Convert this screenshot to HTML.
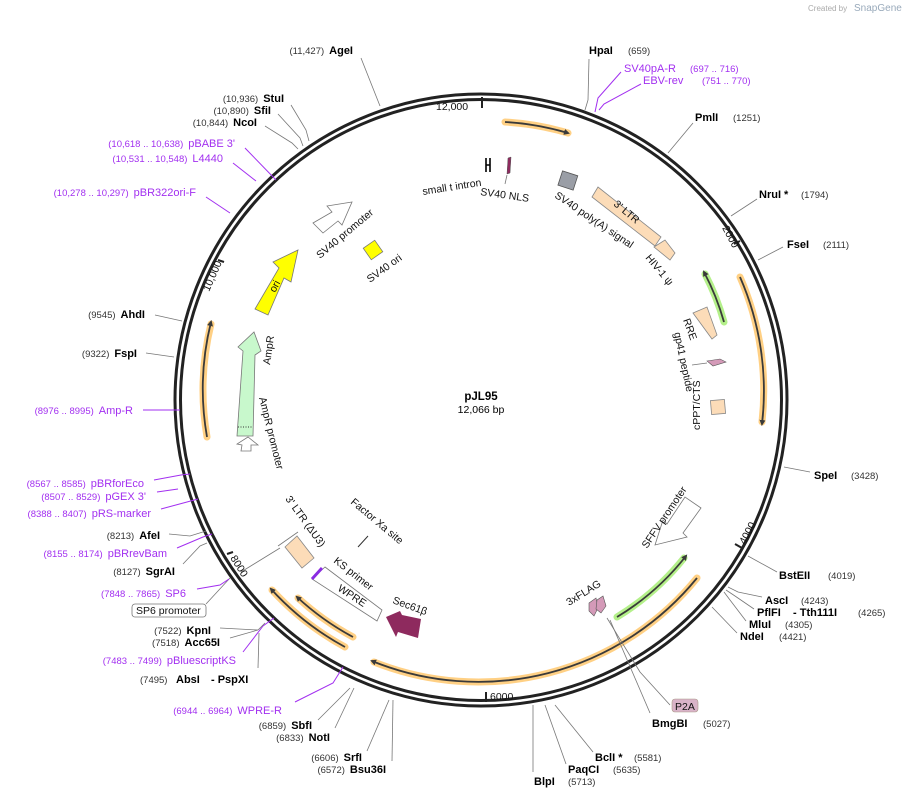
<!DOCTYPE html>
<html><head><meta charset="utf-8"><style>
html,body{margin:0;padding:0;background:#fff;}
svg{display:block;font-family:"Liberation Sans","DejaVu Sans",sans-serif;}
.b{font-weight:bold;font-size:11px;fill:#000;}
.n{font-size:9.5px;fill:#333;}
.p{font-size:11px;fill:#a22ff0;}
.pn{font-size:9.5px;fill:#a22ff0;}
.l{stroke:#777;stroke-width:0.8;fill:none;}
.pl{stroke:#a22ff0;stroke-width:1;fill:none;}
.f{font-size:10.5px;fill:#111;}
.halo{stroke:#ffc86e;stroke-width:7;fill:none;stroke-linecap:round;opacity:.85}
.orf{stroke:#3a3a3a;stroke-width:1.8;fill:none;}
.ghalo{stroke:#b4f08a;stroke-width:7;fill:none;stroke-linecap:round;}
.peach{fill:#fcdcb8;stroke:#888;stroke-width:.8;}
</style></head><body>
<svg width="904" height="799" viewBox="0 0 904 799" xmlns="http://www.w3.org/2000/svg">
<defs>
<marker id="ah" markerWidth="6" markerHeight="6" refX="4" refY="3" orient="auto" markerUnits="userSpaceOnUse"><path d="M0,0 L6,3 L0,6 Z" fill="#3a3a3a"/></marker>
</defs>
<text x="808" y="11" font-size="8" fill="#aaa">Created by</text>
<text x="854" y="11" font-size="10" fill="#9ab">SnapGene</text>

<circle cx="481" cy="400" r="306" fill="none" stroke="#222" stroke-width="3"/>
<circle cx="481" cy="400" r="300.5" fill="none" stroke="#222" stroke-width="3"/>

<line x1="482" y1="97" x2="482" y2="108" stroke="#222" stroke-width="2"/>
<text x="436" y="110" class="f" font-size="10">12,000</text>
<line x1="734" y1="244" x2="740" y2="241" stroke="#222" stroke-width="2"/>
<text transform="translate(722,228) rotate(62)" class="f" font-size="10">2000</text>
<line x1="735" y1="544" x2="742" y2="548" stroke="#222" stroke-width="2"/>
<text transform="translate(745,545) rotate(-62)" class="f" font-size="10">4000</text>
<line x1="486" y1="692" x2="486" y2="702" stroke="#222" stroke-width="2"/>
<text x="490" y="700" class="f" font-size="10">6000</text>
<line x1="227" y1="554" x2="233" y2="552" stroke="#222" stroke-width="2"/>
<text transform="translate(230,558) rotate(58)" class="f" font-size="10">8000</text>
<line x1="218" y1="260" x2="224" y2="262" stroke="#222" stroke-width="2"/>
<text transform="translate(209,292) rotate(-66)" class="f" font-size="10">10,000</text>

<path class="halo" d="M505,122 A279,279 0 0 1 568,133"/>
<path class="orf" d="M505,122 A279,279 0 0 1 568,133" marker-end="url(#ah)"/>
<path class="halo" d="M740,277 A284,284 0 0 1 762,422"/>
<path class="orf" d="M740,277 A284,284 0 0 1 762,424" marker-end="url(#ah)"/>
<path class="halo" d="M697,578 A282,282 0 0 1 374,662"/>
<path class="orf" d="M697,578 A282,282 0 0 1 372,661" marker-end="url(#ah)"/>
<path class="halo" d="M345,647 A282,282 0 0 1 272,590"/>
<path class="orf" d="M345,647 A282,282 0 0 1 271,589" marker-end="url(#ah)"/>
<path class="halo" d="M353,637 A269,269 0 0 1 298,598"/>
<path class="orf" d="M353,637 A269,269 0 0 1 297,597" marker-end="url(#ah)"/>
<path class="halo" d="M207,437 A278,278 0 0 1 211,324"/>
<path class="orf" d="M207,437 A278,278 0 0 1 211,322" marker-end="url(#ah)"/>
<path class="ghalo" d="M724,322 A256,256 0 0 0 705,274"/>
<path class="orf" d="M724,322 A256,256 0 0 0 704,272" marker-end="url(#ah)"/>
<path class="ghalo" d="M617,617 A256,256 0 0 0 684,558"/>
<path class="orf" d="M617,617 A256,256 0 0 0 686,556" marker-end="url(#ah)"/>

<polygon points="237,436 253,436 255,355 261,351 254,332 238,347 243,351" fill="#c8f8cc" stroke="#777" stroke-width=".8"/>
<line x1="238" y1="427" x2="253" y2="427" stroke="#333" stroke-dasharray="1,1.5"/>
<polygon points="241,451 251,451 251,445 258,445 248,437 237,444 242,445" fill="#fff" stroke="#777" stroke-width=".8"/>
<polygon points="255,309 268,315 284,278 291,282 298,250 273,262 279,268" fill="#ffff00" stroke="#777" stroke-width=".8"/>
<text transform="translate(275,293) rotate(-62)" class="f" font-size="10">ori</text>
<polygon points="313,223 323,233 338,221 342,225 352,202 327,206 332,212" fill="#fff" stroke="#777" stroke-width=".8"/>
<text transform="translate(320,259) rotate(-40)" class="f">SV40 promoter</text>
<rect x="366" y="243" width="14" height="14" fill="#ffff00" stroke="#777" stroke-width=".8" transform="rotate(-35 373 250)"/>
<text transform="translate(370,283) rotate(-36)" class="f">SV40 ori</text>
<text transform="translate(270,365) rotate(-82)" class="f">AmpR</text>
<text transform="translate(259,398) rotate(76)" class="f">AmpR promoter</text>

<path d="M486,158 V172 M490,158 V172 M486,165 H490" stroke="#000" stroke-width="1.6"/>
<text transform="translate(423,195) rotate(-9)" class="f">small t intron</text>
<polygon points="508,158 511,157 510,173 507,174" fill="#8e2a5e" stroke="#555" stroke-width=".5"/>
<line x1="507" y1="175" x2="505" y2="184" class="l"/>
<text transform="translate(480,195) rotate(8)" class="f">SV40 NLS</text>
<rect x="560" y="173" width="16" height="15" fill="#9a9ea6" stroke="#555" stroke-width=".8" transform="rotate(18 568 180)"/>
<text transform="translate(554,197) rotate(34)" class="f">SV40 poly(A) signal</text>
<polygon class="peach" points="592,197 598,187 661,237 655,246"/>
<text transform="translate(613,205) rotate(40)" class="f">3' LTR</text>
<polygon class="peach" points="654,247 665,240 675,253 670,260"/>
<text transform="translate(645,258) rotate(50)" class="f">HIV-1 ψ</text>
<polygon class="peach" points="693,313 707,307 717,335 712,339"/>
<text transform="translate(683,320) rotate(70)" class="f">RRE</text>
<polygon points="707,361 720,359 726,362 713,366" fill="#d49ab8" stroke="#555" stroke-width=".6"/>
<line x1="692" y1="365" x2="707" y2="363" class="l"/>
<text transform="translate(674,333) rotate(78)" class="f">gp41 peptide</text>
<rect x="711" y="400" width="14" height="14" class="peach" transform="rotate(-5 718 407)"/>
<text transform="translate(700,430) rotate(-90)" class="f">cPPT/CTS</text>

<polygon points="655,545 663,520 667,524 685,497 701,508 683,533 687,537" fill="#fff" stroke="#777" stroke-width=".8"/>
<text transform="translate(647,549) rotate(-56)" class="f">SFFV promoter</text>
<polygon points="589,603 596,598 598,608 594,616 589,611" fill="#d49ab8" stroke="#555" stroke-width=".6"/>
<polygon points="597,600 603,596 606,606 601,613 596,609" fill="#d49ab8" stroke="#555" stroke-width=".6"/>
<text transform="translate(569,606) rotate(-32)" class="f">3xFLAG</text>
<polyline points="607,618 640,672 670,705" class="l"/>
<line x1="610" y1="620" x2="650" y2="713" class="l"/>
<rect x="672" y="699" width="26" height="13" rx="3" fill="#d9b3c8" stroke="#a98" stroke-width=".6"/>
<text x="675" y="710" class="f" font-size="10.5">P2A</text>

<polygon points="386,617 400,611 402,615 421,619 418,638 398,632 396,637" fill="#8e2a5e"/>
<text transform="translate(392,603) rotate(20)" class="f">Sec61β</text>
<polygon points="325,567 382,610 377,621 312,579" fill="#fff" stroke="#777" stroke-width=".8"/>
<line x1="312" y1="579" x2="322" y2="568" stroke="#8a2be2" stroke-width="3"/>
<text transform="translate(333,562) rotate(38)" class="f">KS primer</text>
<text transform="translate(337,590) rotate(33)" class="f">WPRE</text>
<polygon class="peach" points="285,547 297,536 314,558 302,568"/>
<line x1="278" y1="546" x2="298" y2="532" class="l"/>
<line x1="241" y1="572" x2="280" y2="548" class="l"/>
<text transform="translate(285,499) rotate(54)" class="f">3' LTR (ΔU3)</text>
<text transform="translate(350,503) rotate(40)" class="f">Factor Xa site</text>
<line x1="358" y1="547" x2="368" y2="536" stroke="#333" stroke-width="1"/>

<text x="481" y="400" text-anchor="middle" font-weight="bold" font-size="11.5">pJL95</text>
<text x="481" y="413" text-anchor="middle" font-size="10.5">12,066 bp</text>

<line x1="589" y1="59" x2="588" y2="100" class="l"/><line x1="588" y1="100" x2="585" y2="110" class="l"/>
<text x="589" y="54" class="b">HpaI</text><text x="628" y="54" class="n">(659)</text>
<polyline class="pl" points="621,72 598,98 595,112"/>
<polyline class="pl" points="641,84 604,104 599,110"/>
<text x="624" y="72" class="p">SV40pA-R</text><text x="690" y="72" class="pn">(697 .. 716)</text>
<text x="643" y="84" class="p">EBV-rev</text><text x="702" y="84" class="pn">(751 .. 770)</text>
<line x1="693" y1="123" x2="668" y2="153" class="l"/>
<text x="695" y="121" class="b">PmlI</text><text x="733" y="121" class="n">(1251)</text>
<line x1="757" y1="199" x2="731" y2="216" class="l"/>
<text x="759" y="198" class="b">NruI *</text><text x="801" y="198" class="n">(1794)</text>
<line x1="783" y1="247" x2="758" y2="260" class="l"/>
<text x="787" y="248" class="b">FseI</text><text x="823" y="248" class="n">(2111)</text>
<line x1="810" y1="472" x2="784" y2="467" class="l"/>
<text x="814" y="479" class="b">SpeI</text><text x="851" y="479" class="n">(3428)</text>
<line x1="777" y1="572" x2="748" y2="556" class="l"/>
<text x="779" y="579" class="b">BstEII</text><text x="828" y="579" class="n">(4019)</text>
<polyline class="l" points="762,597 738,592 728,587"/>
<polyline class="l" points="754,609 735,596 726,590"/>
<polyline class="l" points="746,621 730,600 724,592"/>
<polyline class="l" points="737,633 712,607"/>
<text x="765" y="604" class="b">AscI</text><text x="801" y="604" class="n">(4243)</text>
<text x="757" y="616" class="b">PflFI</text><text x="793" y="616" class="b">- Tth111I</text><text x="858" y="616" class="n">(4265)</text>
<text x="749" y="628" class="b">MluI</text><text x="785" y="628" class="n">(4305)</text>
<text x="740" y="640" class="b">NdeI</text><text x="779" y="640" class="n">(4421)</text>
<text x="652" y="727" class="b">BmgBI</text><text x="703" y="727" class="n">(5027)</text>
<line x1="593" y1="752" x2="555" y2="705" class="l"/>
<line x1="566" y1="764" x2="545" y2="705" class="l"/>
<line x1="533" y1="772" x2="533" y2="705" class="l"/>
<text x="595" y="761" class="b">BclI *</text><text x="634" y="761" class="n">(5581)</text>
<text x="568" y="773" class="b">PaqCI</text><text x="613" y="773" class="n">(5635)</text>
<text x="534" y="785" class="b">BlpI</text><text x="568" y="785" class="n">(5713)</text>

<line x1="367" y1="751" x2="389" y2="700" class="l"/>
<line x1="392" y1="761" x2="393" y2="700" class="l"/>
<text x="362" y="761" text-anchor="end"><tspan class="n">(6606)</tspan><tspan class="b" dx="5">SrfI</tspan></text>
<text x="386" y="773" text-anchor="end"><tspan class="n">(6572)</tspan><tspan class="b" dx="5">Bsu36I</tspan></text>
<line x1="318" y1="720" x2="350" y2="688" class="l"/>
<line x1="335" y1="728" x2="354" y2="688" class="l"/>
<text x="312" y="729" text-anchor="end"><tspan class="n">(6859)</tspan><tspan class="b" dx="5">SbfI</tspan></text>
<text x="330" y="741" text-anchor="end"><tspan class="n">(6833)</tspan><tspan class="b" dx="5">NotI</tspan></text>
<polyline class="pl" points="295,702 333,683 343,667"/>
<text x="282" y="714" text-anchor="end"><tspan class="pn">(6944 .. 6964)</tspan><tspan class="p" dx="5">WPRE-R</tspan></text>
<text x="140" y="683" class="n">(7495)</text><text x="176" y="683" class="b">AbsI</text><text x="211" y="683" class="b">- PspXI</text>
<line x1="258" y1="668" x2="259" y2="633" class="l"/>
<polyline class="pl" points="243,652 263,626 274,618"/>
<text x="236" y="664" text-anchor="end"><tspan class="pn">(7483 .. 7499)</tspan><tspan class="p" dx="5">pBluescriptKS</tspan></text>
<line x1="220" y1="628" x2="258" y2="630" class="l"/><line x1="230" y1="638" x2="258" y2="630" class="l"/><line x1="258" y1="630" x2="265" y2="623" class="l"/>
<text x="211" y="634" text-anchor="end"><tspan class="n">(7522)</tspan><tspan class="b" dx="5">KpnI</tspan></text>
<text x="220" y="646" text-anchor="end"><tspan class="n">(7518)</tspan><tspan class="b" dx="5">Acc65I</tspan></text>
<rect x="132" y="604" width="74" height="13" rx="3" fill="#fff" stroke="#777" stroke-width=".8"/>
<text x="136" y="614" class="f">SP6 promoter</text>
<line x1="206" y1="604" x2="230" y2="578" class="l"/>
<polyline class="pl" points="197,589 220,585 229,579"/>
<text x="186" y="597" text-anchor="end"><tspan class="pn">(7848 .. 7865)</tspan><tspan class="p" dx="5">SP6</tspan></text>
<polyline class="l" points="183,564 200,546 207,543"/>
<text x="175" y="575" text-anchor="end"><tspan class="n">(8127)</tspan><tspan class="b" dx="5">SgrAI</tspan></text>
<polyline class="pl" points="177,548 203,537 212,534"/>
<text x="167" y="557" text-anchor="end"><tspan class="pn">(8155 .. 8174)</tspan><tspan class="p" dx="5">pBRrevBam</tspan></text>
<polyline class="l" points="169,534 190,536 206,531"/>
<text x="160" y="539" text-anchor="end"><tspan class="n">(8213)</tspan><tspan class="b" dx="5">AfeI</tspan></text>
<polyline class="pl" points="161,509 187,502 198,499"/>
<text x="151" y="517" text-anchor="end"><tspan class="pn">(8388 .. 8407)</tspan><tspan class="p" dx="5">pRS-marker</tspan></text>
<polyline class="pl" points="157,492 178,489"/>
<text x="146" y="500" text-anchor="end"><tspan class="pn">(8507 .. 8529)</tspan><tspan class="p" dx="5">pGEX 3'</tspan></text>
<polyline class="pl" points="154,480 181,475 190,474"/>
<text x="144" y="487" text-anchor="end"><tspan class="pn">(8567 .. 8585)</tspan><tspan class="p" dx="5">pBRforEco</tspan></text>
<polyline class="pl" points="143,410 180,410"/>
<text x="133" y="414" text-anchor="end"><tspan class="pn">(8976 .. 8995)</tspan><tspan class="p" dx="5">Amp-R</tspan></text>
<line x1="146" y1="353" x2="174" y2="357" class="l"/>
<text x="137" y="357" text-anchor="end"><tspan class="n">(9322)</tspan><tspan class="b" dx="5">FspI</tspan></text>
<line x1="155" y1="315" x2="182" y2="321" class="l"/>
<text x="145" y="318" text-anchor="end"><tspan class="n">(9545)</tspan><tspan class="b" dx="5">AhdI</tspan></text>
<polyline class="pl" points="206,197 230,213"/>
<text x="196" y="196" text-anchor="end"><tspan class="pn">(10,278 .. 10,297)</tspan><tspan class="p" dx="5">pBR322ori-F</tspan></text>
<polyline class="pl" points="233,163 256,181"/>
<text x="223" y="162" text-anchor="end"><tspan class="pn">(10,531 .. 10,548)</tspan><tspan class="p" dx="5">L4440</tspan></text>
<polyline class="pl" points="245,148 276,180"/>
<text x="235" y="147" text-anchor="end"><tspan class="pn">(10,618 .. 10,638)</tspan><tspan class="p" dx="5">pBABE 3'</tspan></text>
<polyline class="l" points="265,126 292,143 298,149"/>
<polyline class="l" points="278,114 300,138 303,146"/>
<polyline class="l" points="291,105 306,130 309,141"/>
<text x="257" y="126" text-anchor="end"><tspan class="n">(10,844)</tspan><tspan class="b" dx="5">NcoI</tspan></text>
<text x="271" y="114" text-anchor="end"><tspan class="n">(10,890)</tspan><tspan class="b" dx="5">SfiI</tspan></text>
<text x="284" y="102" text-anchor="end"><tspan class="n">(10,936)</tspan><tspan class="b" dx="5">StuI</tspan></text>
<line x1="361" y1="58" x2="380" y2="106" class="l"/>
<text x="353" y="54" text-anchor="end"><tspan class="n">(11,427)</tspan><tspan class="b" dx="5">AgeI</tspan></text>
</svg>
</body></html>
